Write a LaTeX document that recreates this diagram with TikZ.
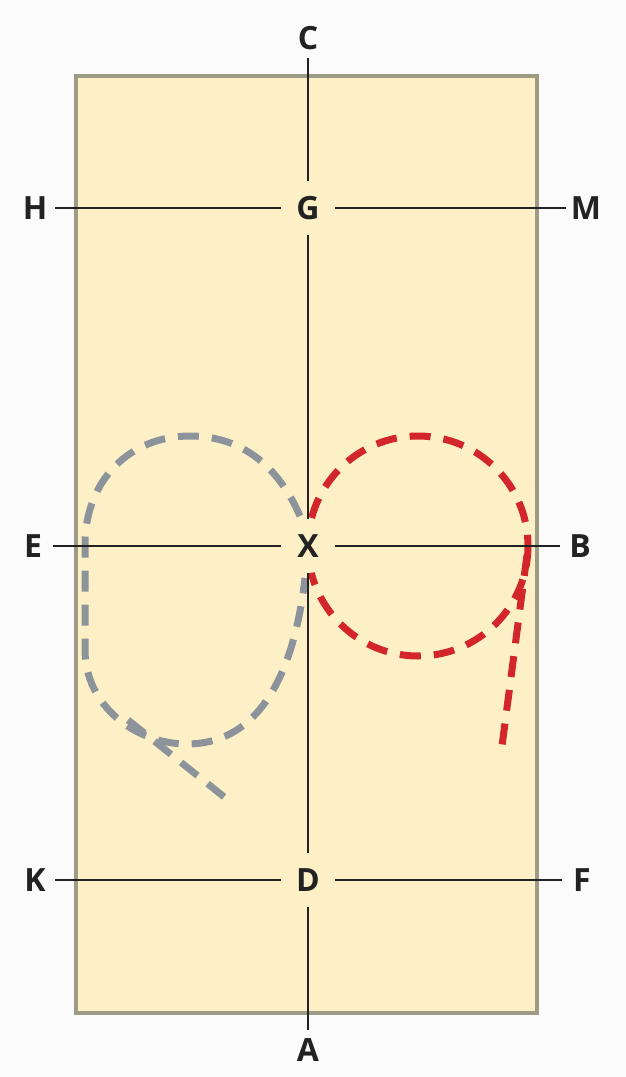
\documentclass[tikz,border=0pt]{standalone}
\usepackage{fontspec}
\setmainfont{Open Sans}
\definecolor{bgc}{HTML}{FBFBFB}
\definecolor{paper}{HTML}{FDF0C6}
\definecolor{frame}{HTML}{9E9B84}
\definecolor{ink}{HTML}{222222}
\definecolor{grayloop}{HTML}{8C939B}
\definecolor{redloop}{HTML}{D3262B}
\begin{document}
\begin{tikzpicture}[x=1pt,y=-1pt,
  lbl/.style={circle,inner sep=0pt,minimum size=40pt,text=ink,font=\fontsize{32}{38}\selectfont\bfseries},
  ctr/.style={lbl,minimum size=54pt},
  axis/.style={draw=ink,line width=1.7pt},
  dashcurve/.style={line width=7pt,dash pattern=on 21pt off 13pt}]
\useasboundingbox (0,0) rectangle (626,1077);
\fill[bgc] (0,0) rectangle (626,1077);
\draw[fill=paper,draw=frame,line width=4.5pt] (76,76) rectangle (537,1013);
% gray loop
\draw[dashcurve,grayloop] (300,516) .. controls (280,470) and (245,436) .. (190,436)
  .. controls (130,436) and (85,480) .. (85,545) -- (85,650)
  .. controls (85,705) and (135,744) .. (187,744)
  .. controls (250,744) and (292,690) .. (305,578);
\draw[dashcurve,grayloop] (128,720) -- (228,800);
% red loop
\draw[dashcurve,redloop] (418,546) circle[radius=110];
\draw[dashcurve,redloop] (527,555) -- (502,746);
% labels
\node[lbl] (C) at (308,38) {C};
\node[ctr] (G) at (308,208) {G};
\node[lbl] (H) at (35,208) {H};
\node[lbl] (M) at (586,208) {M};
\node[ctr,fill=paper] (X) at (308,546) {X};
\node[lbl] (E) at (33,546) {E};
\node[lbl] (B) at (580,546) {B};
\node[ctr] (D) at (308,880) {D};
\node[lbl] (K) at (35,880) {K};
\node[lbl] (F) at (582,880) {F};
\node[lbl] (A) at (308,1050) {A};
% axis lines
\draw[axis] (C) -- (G);
\draw[axis] (G) -- (X);
\draw[axis] (X) -- (D);
\draw[axis] (D) -- (A);
\draw[axis] (H) -- (G);
\draw[axis] (G) -- (M);
\draw[axis] (E) -- (X);
\draw[axis] (X) -- (B);
\draw[axis] (K) -- (D);
\draw[axis] (D) -- (F);
\end{tikzpicture}
\end{document}
